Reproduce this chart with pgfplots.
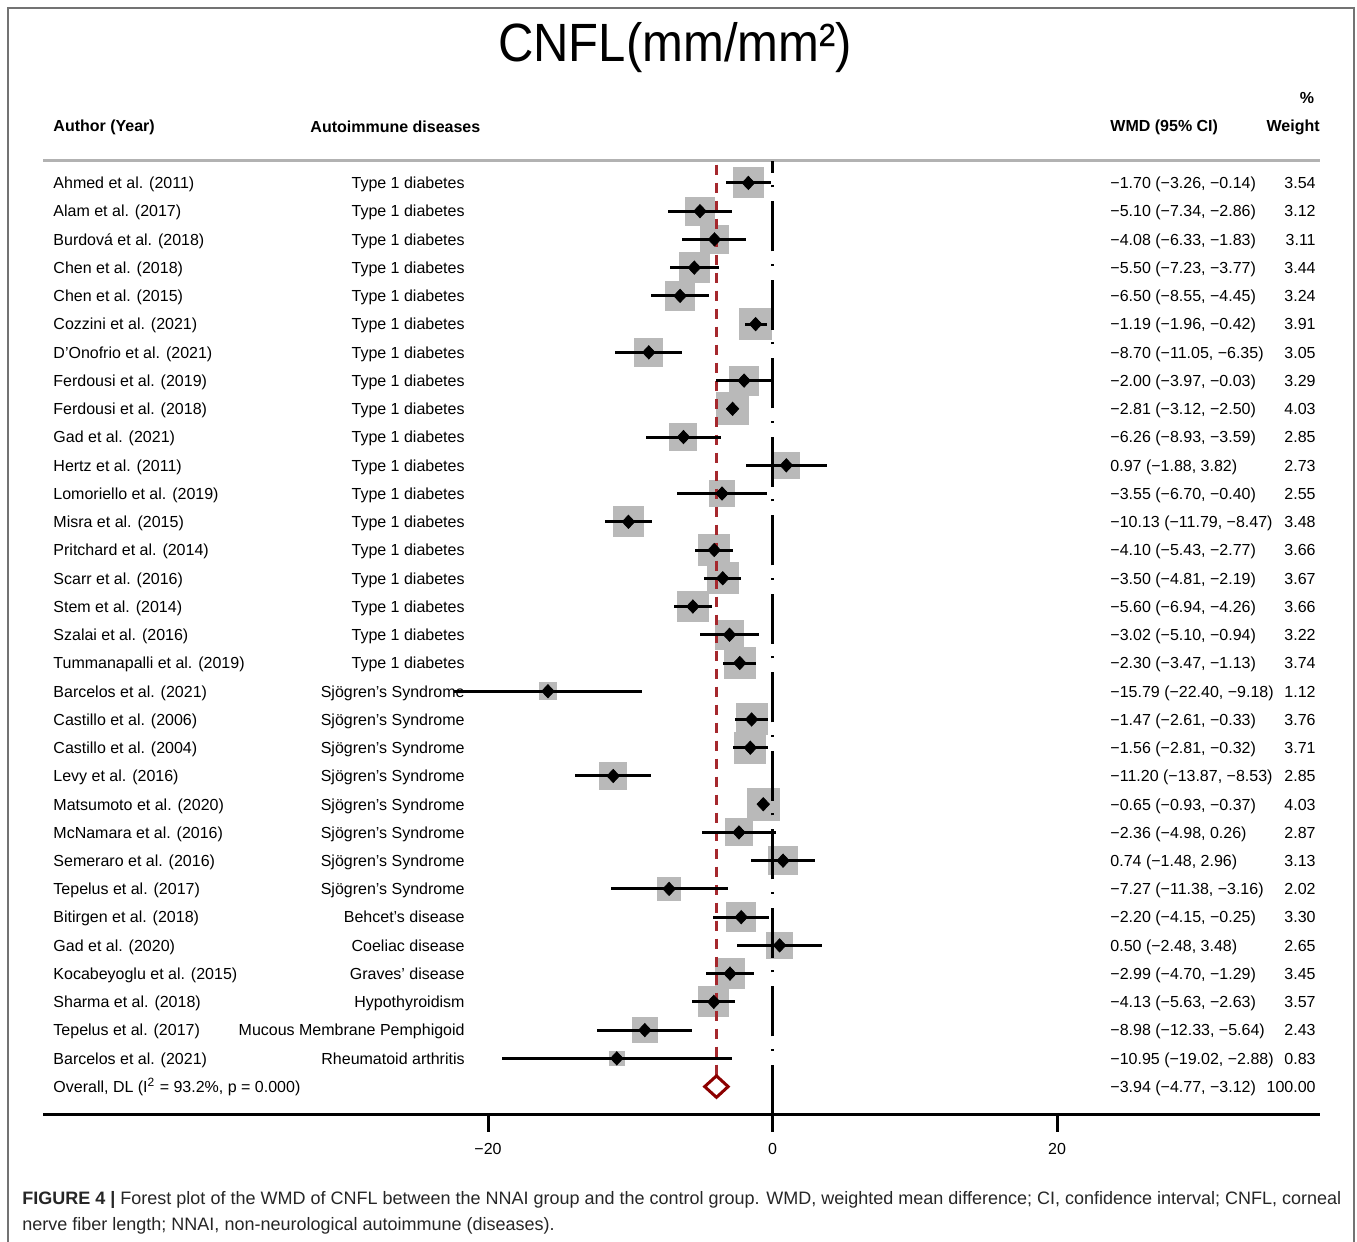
\documentclass[border=0pt]{standalone}
\usepackage{fontspec}
\setmainfont{Liberation Sans}
\usepackage{pgfplots}
\usepackage{pgfplotstable}
\pgfplotsset{compat=1.18}

\definecolor{boxgray}{RGB}{185,185,185}
\definecolor{refred}{RGB}{165,40,45}
\definecolor{diared}{RGB}{140,0,0}
\newcommand{\bodyfont}{\fontsize{8}{9.6}\selectfont}

% one row per study: effect size, 95% CI, weight
\pgfplotstableread[col sep=semicolon]{
row;author;disease;es;lo;hi;w;wmd
1;Ahmed et al. (2011);Type 1 diabetes;-1.70;-3.26;-0.14;3.54;−1.70 (−3.26, −0.14)
2;Alam et al. (2017);Type 1 diabetes;-5.10;-7.34;-2.86;3.12;−5.10 (−7.34, −2.86)
3;Burdová et al. (2018);Type 1 diabetes;-4.08;-6.33;-1.83;3.11;−4.08 (−6.33, −1.83)
4;Chen et al. (2018);Type 1 diabetes;-5.50;-7.23;-3.77;3.44;−5.50 (−7.23, −3.77)
5;Chen et al. (2015);Type 1 diabetes;-6.50;-8.55;-4.45;3.24;−6.50 (−8.55, −4.45)
6;Cozzini et al. (2021);Type 1 diabetes;-1.19;-1.96;-0.42;3.91;−1.19 (−1.96, −0.42)
7;D’Onofrio et al. (2021);Type 1 diabetes;-8.70;-11.05;-6.35;3.05;−8.70 (−11.05, −6.35)
8;Ferdousi et al. (2019);Type 1 diabetes;-2.00;-3.97;-0.03;3.29;−2.00 (−3.97, −0.03)
9;Ferdousi et al. (2018);Type 1 diabetes;-2.81;-3.12;-2.50;4.03;−2.81 (−3.12, −2.50)
10;Gad et al. (2021);Type 1 diabetes;-6.26;-8.93;-3.59;2.85;−6.26 (−8.93, −3.59)
11;Hertz et al. (2011);Type 1 diabetes;0.97;-1.88;3.82;2.73;0.97 (−1.88, 3.82)
12;Lomoriello et al. (2019);Type 1 diabetes;-3.55;-6.70;-0.40;2.55;−3.55 (−6.70, −0.40)
13;Misra et al. (2015);Type 1 diabetes;-10.13;-11.79;-8.47;3.48;−10.13 (−11.79, −8.47)
14;Pritchard et al. (2014);Type 1 diabetes;-4.10;-5.43;-2.77;3.66;−4.10 (−5.43, −2.77)
15;Scarr et al. (2016);Type 1 diabetes;-3.50;-4.81;-2.19;3.67;−3.50 (−4.81, −2.19)
16;Stem et al. (2014);Type 1 diabetes;-5.60;-6.94;-4.26;3.66;−5.60 (−6.94, −4.26)
17;Szalai et al. (2016);Type 1 diabetes;-3.02;-5.10;-0.94;3.22;−3.02 (−5.10, −0.94)
18;Tummanapalli et al. (2019);Type 1 diabetes;-2.30;-3.47;-1.13;3.74;−2.30 (−3.47, −1.13)
19;Barcelos et al. (2021);Sjögren’s Syndrome;-15.79;-22.40;-9.18;1.12;−15.79 (−22.40, −9.18)
20;Castillo et al. (2006);Sjögren’s Syndrome;-1.47;-2.61;-0.33;3.76;−1.47 (−2.61, −0.33)
21;Castillo et al. (2004);Sjögren’s Syndrome;-1.56;-2.81;-0.32;3.71;−1.56 (−2.81, −0.32)
22;Levy et al. (2016);Sjögren’s Syndrome;-11.20;-13.87;-8.53;2.85;−11.20 (−13.87, −8.53)
23;Matsumoto et al. (2020);Sjögren’s Syndrome;-0.65;-0.93;-0.37;4.03;−0.65 (−0.93, −0.37)
24;McNamara et al. (2016);Sjögren’s Syndrome;-2.36;-4.98;0.26;2.87;−2.36 (−4.98, 0.26)
25;Semeraro et al. (2016);Sjögren’s Syndrome;0.74;-1.48;2.96;3.13;0.74 (−1.48, 2.96)
26;Tepelus et al. (2017);Sjögren’s Syndrome;-7.27;-11.38;-3.16;2.02;−7.27 (−11.38, −3.16)
27;Bitirgen et al. (2018);Behcet’s disease;-2.20;-4.15;-0.25;3.30;−2.20 (−4.15, −0.25)
28;Gad et al. (2020);Coeliac disease;0.50;-2.48;3.48;2.65;0.50 (−2.48, 3.48)
29;Kocabeyoglu et al. (2015);Graves’ disease;-2.99;-4.70;-1.29;3.45;−2.99 (−4.70, −1.29)
30;Sharma et al. (2018);Hypothyroidism;-4.13;-5.63;-2.63;3.57;−4.13 (−5.63, −2.63)
31;Tepelus et al. (2017);Mucous Membrane Pemphigoid;-8.98;-12.33;-5.64;2.43;−8.98 (−12.33, −5.64)
32;Barcelos et al. (2021);Rheumatoid arthritis;-10.95;-19.02;-2.88;0.83;−10.95 (−19.02, −2.88)
}\studies

\pgfplotsset{
  txt/.style={draw=none, mark=none, point meta=explicit symbolic,
    nodes near coords,
    nodes near coords style={anchor=base #1, inner sep=0pt, yshift=-2.9pt,
      font=\bodyfont, text=black}},
}

\begin{document}
\begin{tikzpicture}
\begin{axis}[
  scale only axis, width=638.5pt, height=477pt,
  xmin=-51.28, xmax=38.49, ymin=-34, ymax=-0.22,
  clip=false, clip marker paths=true,
  axis x line*=bottom, axis y line=none,
  axis line style={line width=1.5pt, black},
  xtick={-20,0,20}, xticklabels={−20,0,20},
  tick align=outside, major tick length=8.5pt,
  tick style={line width=1.5pt, black},
  xticklabel style={font=\bodyfont, yshift=-2pt},
  ytick=\empty,
]
% header rule
\addplot[black!30, line width=1.5pt] coordinates {(-51.28,-0.22) (38.49,-0.22)};

% weight boxes
\addplot[scatter, only marks, mark=square*,
  scatter/use mapped color={draw=boxgray, fill=boxgray},
  mark options={line width=0pt},
  visualization depends on={4*sqrt(\thisrow{w}) \as \msize},
  scatter/@pre marker code/.append style={/tikz/mark size=\msize}]
  table[x=es, y expr=-\thisrow{row}] {\studies};

% overall effect line
\addplot[refred, line width=1.3pt, dash pattern=on 5pt off 4pt]
  coordinates {(-3.94,-0.35) (-3.94,-32.6)};
% null line
\addplot[black, line width=1.5pt, dash pattern=on 25pt off 7pt on 1pt off 6.25pt]
  coordinates {(0,-34) (0,-0.22)};

% confidence intervals
\addplot[draw=none, mark=none,
  error bars/.cd, x dir=both, x explicit, error mark=none,
  error bar style={draw=black, line width=1.5pt}]
  table[x=es, y expr=-\thisrow{row},
        x error minus expr=\thisrow{es}-\thisrow{lo},
        x error plus expr=\thisrow{hi}-\thisrow{es}] {\studies};

% point estimates
\addplot[only marks, mark=diamond*, mark size=3.3pt,
  mark options={xscale=1.25, draw=black, fill=black}]
  table[x=es, y expr=-\thisrow{row}] {\studies};

% pooled estimate
\addplot[diared, line width=1.5pt, line join=miter]
  coordinates {(-4.77,-33) (-3.94,-32.62) (-3.12,-33) (-3.94,-33.38) (-4.77,-33) (-3.94,-32.62)};

% text columns
\addplot[txt=west] table[x expr=-50.58, y expr=-\thisrow{row}, meta=author] {\studies};
\addplot[txt=east] table[x expr=-21.62, y expr=-\thisrow{row}, meta=disease] {\studies};
\addplot[txt=west] table[x expr=23.73, y expr=-\thisrow{row}, meta=wmd] {\studies};
\addplot[txt=east] table[x expr=38.21, y expr=-\thisrow{row}, meta=w] {\studies};

\node[anchor=base west, inner sep=0pt, yshift=-2.9pt, font=\bodyfont] at (axis cs:-50.58,-33)
  {Overall, DL (I\textsuperscript{2} = 93.2\%, p = 0.000)};
\node[anchor=base west, inner sep=0pt, yshift=-2.9pt, font=\bodyfont] at (axis cs:23.73,-33) {−3.94 (−4.77, −3.12)};
\node[anchor=base east, inner sep=0pt, yshift=-2.9pt, font=\bodyfont] at (axis cs:38.21,-33) {100.00};

% headers
\node[anchor=west, inner sep=0pt, font=\bodyfont\bfseries] at (axis cs:-50.58,0.98) {Author (Year)};
\node[anchor=west, inner sep=0pt, font=\bodyfont\bfseries] at (axis cs:-32.51,0.98) {Autoimmune diseases};
\node[anchor=west, inner sep=0pt, font=\bodyfont\bfseries] at (axis cs:23.73,0.98) {WMD (95\% CI)};
\node[anchor=east, inner sep=0pt, font=\bodyfont\bfseries] at (axis cs:38.49,0.98) {Weight};
\node[inner sep=0pt, font=\bodyfont\bfseries] at (axis cs:37.57,2.01) {\%};

% title
\node[inner sep=0pt, font=\fontsize{24.5}{30}\selectfont, yscale=1.1] at (axis cs:-6.85,3.78)
  {CNFL(mm/mm²)};

% caption
\node[anchor=west, inner sep=0pt, font=\fontsize{9.0}{10.8}\selectfont, text=black!85]
  at (axis cs:-52.76,-37.0)
  {\textbf{FIGURE 4 |} Forest plot of the WMD of CNFL between the NNAI group and the control group. WMD, weighted mean difference; CI, confidence interval; CNFL, corneal};
\node[anchor=west, inner sep=0pt, font=\fontsize{9.0}{10.8}\selectfont, text=black!85]
  at (axis cs:-52.76,-37.93)
  {nerve fiber length; NNAI, non-neurological autoimmune (diseases).};

% frame and page size
\draw[black!55, line width=1pt] (axis cs:-53.74,5.195) rectangle (axis cs:40.88,-39.5);
\coordinate (bbTL) at (axis cs:-54.31,5.478);
\coordinate (bbBR) at (axis cs:41.09,-38.49);
\end{axis}
\pgfresetboundingbox
\path[use as bounding box] (bbTL) rectangle (bbBR);
\end{tikzpicture}
\end{document}
